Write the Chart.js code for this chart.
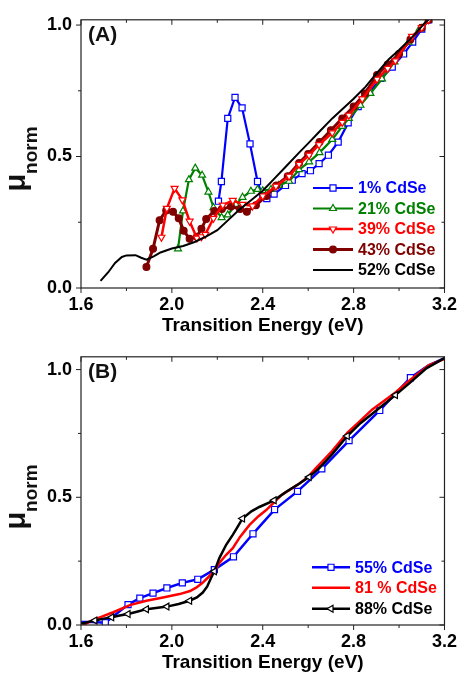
<!DOCTYPE html>
<html><head><meta charset="utf-8">
<script src="https://cdn.jsdelivr.net/npm/chart.js@4.4.0/dist/chart.umd.min.js"></script>
<style>
html,body{margin:0;padding:0;background:#fff;}
#wrap{position:relative;width:463px;height:674px;overflow:hidden;}
.pane{position:absolute;left:0;width:463px;height:337px;}
</style></head><body>
<div id="wrap">
<div class="pane" style="top:0"><canvas id="ca" width="463" height="337"></canvas></div>
<div class="pane" style="top:337px"><canvas id="cb" width="463" height="337"></canvas></div>
</div>
<script>
const FONT = '"Liberation Sans", Arial, Helvetica, sans-serif';

// ---- axes ticks ----
const xTickVals = [1.6, 2.0, 2.4, 2.8, 3.2];
const xTickLabels = ['1.6', '2.0', '2.4', '2.8', '3.2'];
const xMinorVals = [1.8, 2.2, 2.6, 3.0];
const yTickVals = [0, 0.5, 1.0];
const yTickLabels = ['0.0', '0.5', '1.0'];
const yMinorVals = [0.25, 0.75];

// ---- Panel (A) ----
const aNames = ['1% CdSe', '21% CdSe', '39% CdSe', '43% CdSe', '52% CdSe'];
const a1x = [2.205, 2.218, 2.246, 2.278, 2.309, 2.344, 2.377, 2.40, 2.418, 2.45, 2.50, 2.53, 2.573, 2.61, 2.648, 2.689, 2.732, 2.776, 2.82, 2.87, 2.92, 2.97, 3.02, 3.06, 3.10, 3.13];
const a1y = [0.33, 0.405, 0.645, 0.725, 0.685, 0.548, 0.405, 0.345, 0.34, 0.357, 0.39, 0.41, 0.435, 0.446, 0.473, 0.505, 0.555, 0.628, 0.69, 0.745, 0.797, 0.84, 0.89, 0.935, 0.985, 1.02];
const a2x = [2.027, 2.049, 2.075, 2.103, 2.133, 2.161, 2.183, 2.219, 2.246, 2.282, 2.311, 2.348, 2.377, 2.40, 2.436, 2.47, 2.516, 2.56, 2.604, 2.65, 2.706, 2.75, 2.779, 2.83, 2.874, 2.925, 2.98, 3.042, 3.09, 3.13];
const a2y = [0.149, 0.293, 0.412, 0.456, 0.429, 0.365, 0.306, 0.268, 0.278, 0.318, 0.345, 0.368, 0.375, 0.37, 0.375, 0.39, 0.406, 0.45, 0.48, 0.515, 0.565, 0.615, 0.645, 0.695, 0.74, 0.795, 0.86, 0.935, 0.985, 1.02];
const a3x = [1.954, 1.978, 2.012, 2.046, 2.078, 2.11, 2.13, 2.147, 2.183, 2.224, 2.268, 2.311, 2.355, 2.40, 2.458, 2.516, 2.56, 2.604, 2.648, 2.706, 2.75, 2.779, 2.838, 2.903, 2.95, 2.984, 3.057, 3.10, 3.13];
const a3y = [0.193, 0.303, 0.379, 0.335, 0.254, 0.19, 0.195, 0.204, 0.265, 0.315, 0.333, 0.318, 0.312, 0.35, 0.387, 0.425, 0.47, 0.505, 0.545, 0.59, 0.63, 0.657, 0.719, 0.794, 0.835, 0.864, 0.957, 0.99, 1.02];
const a4x = [1.888, 1.917, 1.946, 1.975, 2.005, 2.03, 2.052, 2.078, 2.11, 2.13, 2.151, 2.187, 2.22, 2.26, 2.30, 2.33, 2.37, 2.417, 2.46, 2.51, 2.56, 2.60, 2.65, 2.70, 2.75, 2.80, 2.85, 2.903, 2.95, 3.0, 3.05, 3.10, 3.13];
const a4y = [0.08, 0.149, 0.258, 0.295, 0.29, 0.265, 0.218, 0.187, 0.195, 0.225, 0.262, 0.293, 0.30, 0.31, 0.30, 0.29, 0.315, 0.35, 0.39, 0.425, 0.475, 0.51, 0.555, 0.60, 0.645, 0.69, 0.74, 0.81, 0.85, 0.89, 0.945, 0.99, 1.02];
const a5x = [1.686, 1.72, 1.75, 1.78, 1.80, 1.84, 1.865, 1.888, 1.92, 1.95, 2.0, 2.05, 2.1, 2.15, 2.2, 2.25, 2.3, 2.35, 2.4, 2.45, 2.5, 2.56, 2.6, 2.65, 2.706, 2.75, 2.8, 2.852, 2.9, 2.955, 3.0, 3.042, 3.08, 3.115, 3.13];
const a5y = [0.027, 0.06, 0.095, 0.118, 0.124, 0.125, 0.115, 0.108, 0.12, 0.135, 0.15, 0.16, 0.175, 0.195, 0.22, 0.26, 0.30, 0.335, 0.37, 0.415, 0.46, 0.515, 0.55, 0.595, 0.645, 0.68, 0.72, 0.765, 0.815, 0.87, 0.905, 0.94, 0.975, 1.01, 1.02];

// ---- Panel (B) ----
const bNames = ['55% CdSe', '81 % CdSe', '88% CdSe'];
const b1x = [1.60, 1.65, 1.707, 1.807, 1.859, 1.917, 1.978, 2.046, 2.114, 2.187, 2.271, 2.357, 2.452, 2.553, 2.66, 2.78, 2.915, 3.05, 3.13, 3.2];
const b1y = [0.012, 0.012, 0.009, 0.08, 0.105, 0.125, 0.145, 0.165, 0.179, 0.217, 0.267, 0.357, 0.452, 0.523, 0.611, 0.722, 0.84, 0.968, 1.017, 1.045];
const b1Marks = [2, 3, 4, 5, 6, 7, 8, 9, 10, 11, 12, 13, 14, 15, 16, 17];
const b2x = [1.61, 1.65, 1.683, 1.742, 1.815, 1.888, 1.961, 2.034, 2.08, 2.107, 2.135, 2.158, 2.18, 2.195, 2.209, 2.239, 2.268, 2.30, 2.341, 2.38, 2.414, 2.45, 2.48, 2.52, 2.56, 2.60, 2.633, 2.67, 2.706, 2.772, 2.83, 2.881, 2.93, 2.984, 3.05, 3.13, 3.2];
const b2y = [0.0, 0.018, 0.03, 0.05, 0.078, 0.095, 0.108, 0.121, 0.133, 0.146, 0.165, 0.185, 0.205, 0.221, 0.243, 0.275, 0.301, 0.345, 0.391, 0.425, 0.449, 0.48, 0.507, 0.53, 0.553, 0.58, 0.613, 0.648, 0.682, 0.752, 0.80, 0.843, 0.875, 0.91, 0.96, 1.017, 1.042];
const b3x = [1.60, 1.661, 1.70, 1.735, 1.77, 1.807, 1.85, 1.888, 1.93, 1.978, 2.03, 2.078, 2.11, 2.136, 2.155, 2.173, 2.187, 2.209, 2.239, 2.268, 2.29, 2.311, 2.35, 2.385, 2.45, 2.50, 2.56, 2.604, 2.65, 2.706, 2.772, 2.83, 2.90, 2.984, 3.05, 3.12, 3.2];
const b3y = [0.005, 0.018, 0.025, 0.03, 0.037, 0.043, 0.053, 0.062, 0.067, 0.072, 0.082, 0.095, 0.108, 0.127, 0.15, 0.185, 0.21, 0.262, 0.314, 0.353, 0.385, 0.417, 0.445, 0.462, 0.488, 0.52, 0.553, 0.579, 0.615, 0.669, 0.74, 0.79, 0.84, 0.90, 0.95, 1.005, 1.045];
const b3Marks = [1, 3, 5, 7, 9, 11, 16, 21, 24, 27, 30, 33];

const pts = (xs, ys) => xs.map((x, i) => ({x: x, y: ys[i]}));

function drawMarker(ctx, style, x, y, r, stroke, fill, rot) {
  ctx.save();
  ctx.translate(x, y);
  ctx.rotate((rot || 0) * Math.PI / 180);
  ctx.beginPath();
  if (style === 'rect') ctx.rect(-r * 0.707, -r * 0.707, r * 1.414, r * 1.414);
  else if (style === 'triangle') { ctx.moveTo(0, -r); ctx.lineTo(r * 0.866, r * 0.5); ctx.lineTo(-r * 0.866, r * 0.5); ctx.closePath(); }
  else ctx.arc(0, 0, r, 0, Math.PI * 2);
  ctx.fillStyle = fill; ctx.fill();
  ctx.lineWidth = 1.2; ctx.strokeStyle = stroke; ctx.stroke();
  ctx.restore();
}

const deco = {
  id: 'deco',
  afterDatasetsDraw(chart, args, o) {
    const {ctx, chartArea: ca, scales} = chart;
    const sx = scales.x, sy = scales.y;
    ctx.save();
    ctx.strokeStyle = '#222'; ctx.lineWidth = 1.2;
    ctx.strokeRect(ca.left, ca.top, ca.right - ca.left, ca.bottom - ca.top);
    const seg = (x0, y0, x1, y1) => { ctx.beginPath(); ctx.moveTo(x0, y0); ctx.lineTo(x1, y1); ctx.stroke(); };
    ctx.lineWidth = 1;
    xTickVals.forEach(v => { const p = sx.getPixelForValue(v); seg(p, ca.bottom, p, ca.bottom + 5); seg(p, ca.top, p, ca.top + 5); });
    xMinorVals.forEach(v => { const p = sx.getPixelForValue(v); seg(p, ca.bottom, p, ca.bottom + 3); seg(p, ca.top, p, ca.top + 3); });
    yTickVals.forEach(v => { const p = sy.getPixelForValue(v); seg(ca.left - 5, p, ca.left, p); seg(ca.right - 5, p, ca.right, p); });
    yMinorVals.forEach(v => { const p = sy.getPixelForValue(v); seg(ca.left - 3, p, ca.left, p); seg(ca.right - 3, p, ca.right, p); });

    // panel label
    ctx.fillStyle = '#111';
    ctx.font = 'bold 21px ' + FONT;
    ctx.textAlign = 'left'; ctx.textBaseline = 'middle';
    ctx.fillText(o.label, ca.left + 7, ca.top + 15);

    // y title  mu_norm
    ctx.save();
    ctx.translate(o.ytX, o.ytY);
    ctx.rotate(-Math.PI / 2);
    ctx.font = 'bold 29px ' + FONT;
    const muW = ctx.measureText('\u03bc').width;
    ctx.font = 'bold 19px ' + FONT;
    const nW = ctx.measureText('norm').width;
    const tot = muW + nW;
    ctx.textBaseline = 'alphabetic'; ctx.textAlign = 'left';
    ctx.font = 'bold 29px ' + FONT;
    ctx.fillText('\u03bc', -tot / 2, 0);
    ctx.font = 'bold 19px ' + FONT;
    ctx.fillText('norm', -tot / 2 + muW, 12);
    ctx.restore();

    // legend
    ctx.font = 'bold 16px ' + FONT;
    ctx.textBaseline = 'middle'; ctx.textAlign = 'left';
    o.legend.forEach(it => {
      const d = chart.data.datasets[it.ds];
      ctx.strokeStyle = d.borderColor; ctx.lineWidth = d.borderWidth;
      seg(o.lx0, it.y, o.lx1, it.y);
      if (it.r) drawMarker(ctx, d.pointStyle, (o.lx0 + o.lx1) / 2, it.y, it.r, d.borderColor, d.pointBackgroundColor, d.pointRotation);
      ctx.fillStyle = d.borderColor;
      ctx.fillText(d.label, o.tx, it.y + 1);
    });
    ctx.restore();
  }
};

function scales(ymax) {
  const tickFont = {family: FONT, size: 18, weight: 'bold'};
  return {
    x: {
      type: 'linear', min: 1.6, max: 3.2,
      afterBuildTicks: s => { s.ticks = xTickVals.map(v => ({value: v})); },
      afterFit: s => { s.height = 49; },
      grid: {display: false, drawTicks: false}, border: {display: false},
      ticks: {padding: 6, color: '#000', font: tickFont, autoSkip: false, maxRotation: 0, callback: (v, i) => xTickLabels[i]},
      title: {display: true, text: 'Transition Energy (eV)', color: '#000', padding: 0, font: {family: FONT, size: 19, weight: 'bold'}}
    },
    y: {
      type: 'linear', min: 0, max: ymax,
      afterBuildTicks: s => { s.ticks = yTickVals.map(v => ({value: v})); },
      afterFit: s => { s.width = 81; },
      grid: {display: false, drawTicks: false}, border: {display: false},
      ticks: {padding: 9, color: '#000', font: tickFont, autoSkip: false, callback: (v, i) => yTickLabels[i]}
    }
  };
}

function ds(label, xs, ys, color, width, style, r, fill, rot, order, marks) {
  return {
    label: label, data: pts(xs, ys), borderColor: color, borderWidth: width,
    pointStyle: style || 'circle', pointRotation: rot || 0,
    pointRadius: marks ? (c => marks.includes(c.dataIndex) ? r : 0) : (r || 0),
    pointBackgroundColor: fill || '#fff', pointBorderColor: color, pointBorderWidth: 1.2,
    tension: 0, order: order, fill: false
  };
}

const common = (top) => ({
  responsive: false, animation: false, events: [],
  layout: {padding: {top: top, right: 17, left: 0, bottom: 0}, autoPadding: false},
  plugins: {legend: {display: false}, tooltip: {enabled: false}}
});

const optA = common(16);
optA.scales = scales(1.02);
optA.plugins.deco = {label: '(A)', ytX: 25, ytY: 159, lx0: 313, lx1: 353, tx: 358,
  legend: [{ds: 0, y: 188, r: 4.3}, {ds: 1, y: 208.5, r: 4}, {ds: 2, y: 229, r: 4}, {ds: 3, y: 249.5, r: 3.4}, {ds: 4, y: 270, r: 0}]};

new Chart(document.getElementById('ca'), {
  type: 'line',
  data: {datasets: [
    ds(aNames[0], a1x, a1y, '#0000ff', 2.2, 'rect', 4.3, '#fff', 0, 4),
    ds(aNames[1], a2x, a2y, '#008000', 2.2, 'triangle', 4, '#fff', 0, 3),
    ds(aNames[2], a3x, a3y, '#ff0000', 2.5, 'triangle', 4, '#fff', 180, 1),
    ds(aNames[3], a4x, a4y, '#800000', 3, 'circle', 3.4, '#800000', 0, 2),
    ds(aNames[4], a5x, a5y, '#000000', 2, 'circle', 0, '#000', 0, 0)
  ]},
  options: optA,
  plugins: [deco]
});

const optB = common(17);
optB.scales = scales(1.05);
optB.plugins.deco = {label: '(B)', ytX: 25, ytY: 160, lx0: 312, lx1: 350, tx: 355,
  legend: [{ds: 0, y: 230.3, r: 4.3}, {ds: 1, y: 250.7, r: 0}, {ds: 2, y: 271.7, r: 4}]};

new Chart(document.getElementById('cb'), {
  type: 'line',
  data: {datasets: [
    ds(bNames[0], b1x, b1y, '#0000ff', 2.5, 'rect', 4.3, '#fff', 0, 2, b1Marks),
    ds(bNames[1], b2x, b2y, '#ff0000', 2.5, 'circle', 0, '#fff', 0, 1),
    ds(bNames[2], b3x, b3y, '#000000', 2.5, 'triangle', 4, '#fff', -90, 0, b3Marks)
  ]},
  options: optB,
  plugins: [deco]
});
</script>
</body></html>
